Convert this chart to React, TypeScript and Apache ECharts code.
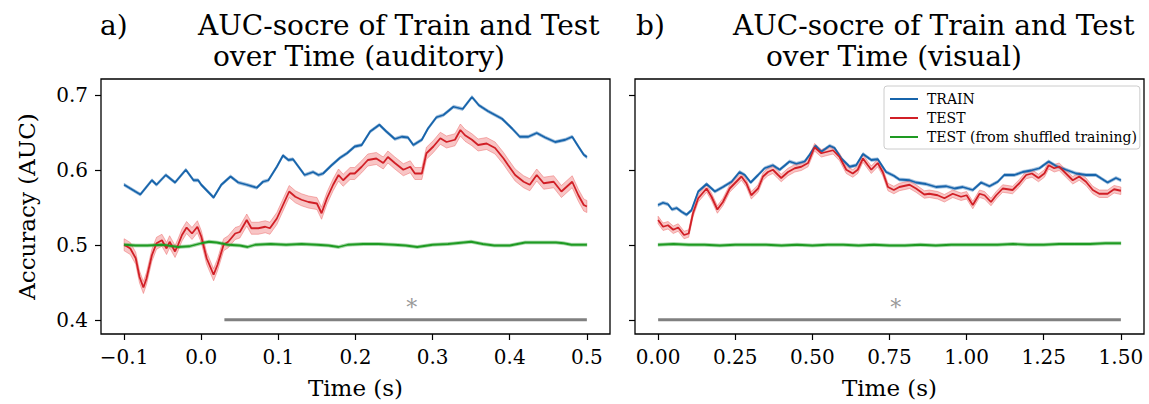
import React, { useEffect, useRef } from "react";
import * as echarts from "echarts";

type P = [number, number];

// ---------- data ----------
const audTrain: P[] = [
  [-0.1, 0.58], [-0.079, 0.567], [-0.064, 0.586], [-0.058, 0.58], [-0.046, 0.593], [-0.034, 0.583],
  [-0.02, 0.6], [-0.01, 0.586], [-0.004, 0.586], [0.0, 0.58], [0.016, 0.563], [0.026, 0.58],
  [0.038, 0.591], [0.048, 0.583], [0.059, 0.58], [0.072, 0.576], [0.08, 0.584], [0.087, 0.586],
  [0.098, 0.604], [0.106, 0.619], [0.113, 0.613], [0.119, 0.614], [0.134, 0.593], [0.145, 0.597],
  [0.152, 0.593], [0.158, 0.595], [0.169, 0.606], [0.18, 0.616], [0.189, 0.622], [0.199, 0.631],
  [0.208, 0.633], [0.219, 0.651], [0.231, 0.66], [0.24, 0.651], [0.251, 0.641], [0.26, 0.644],
  [0.268, 0.643], [0.275, 0.633], [0.286, 0.64], [0.294, 0.655], [0.305, 0.67], [0.314, 0.673],
  [0.327, 0.684], [0.339, 0.681], [0.351, 0.697], [0.36, 0.686], [0.372, 0.678], [0.39, 0.668],
  [0.403, 0.655], [0.413, 0.644], [0.424, 0.644], [0.435, 0.649], [0.446, 0.643], [0.459, 0.637],
  [0.472, 0.64], [0.481, 0.644], [0.489, 0.631], [0.496, 0.62], [0.5, 0.617],
];
const audTest: P[] = [
  [-0.1, 0.5], [-0.092, 0.495], [-0.085, 0.482], [-0.08, 0.457], [-0.075, 0.443], [-0.071, 0.455],
  [-0.064, 0.486], [-0.058, 0.502], [-0.051, 0.506], [-0.045, 0.495], [-0.041, 0.504], [-0.034, 0.491],
  [-0.03, 0.5], [-0.025, 0.513], [-0.019, 0.523], [-0.012, 0.515], [-0.005, 0.524], [0.0, 0.511],
  [0.007, 0.482], [0.016, 0.46], [0.021, 0.473], [0.029, 0.5], [0.035, 0.504], [0.044, 0.515],
  [0.05, 0.517], [0.059, 0.533], [0.065, 0.522], [0.074, 0.522], [0.083, 0.524], [0.089, 0.522],
  [0.098, 0.535], [0.106, 0.553], [0.114, 0.571], [0.122, 0.564], [0.13, 0.56], [0.139, 0.557],
  [0.15, 0.555], [0.156, 0.542], [0.163, 0.562], [0.171, 0.58], [0.178, 0.593], [0.184, 0.586],
  [0.193, 0.595], [0.199, 0.595], [0.208, 0.604], [0.216, 0.613], [0.227, 0.615], [0.236, 0.609],
  [0.242, 0.617], [0.251, 0.609], [0.262, 0.6], [0.271, 0.604], [0.277, 0.595], [0.286, 0.595],
  [0.292, 0.622], [0.301, 0.631], [0.31, 0.642], [0.318, 0.637], [0.329, 0.64], [0.336, 0.653],
  [0.342, 0.646], [0.351, 0.64], [0.359, 0.633], [0.37, 0.635], [0.381, 0.629], [0.392, 0.615],
  [0.398, 0.606], [0.407, 0.593], [0.418, 0.584], [0.426, 0.58], [0.435, 0.593], [0.444, 0.582],
  [0.457, 0.584], [0.467, 0.571], [0.481, 0.584], [0.489, 0.566], [0.496, 0.553], [0.5, 0.551],
];
const audShuf: P[] = [
  [-0.1, 0.5], [-0.085, 0.499], [-0.07, 0.499], [-0.05, 0.5], [-0.03, 0.497], [-0.015, 0.498],
  [0.0, 0.502], [0.01, 0.504], [0.02, 0.503], [0.035, 0.5], [0.05, 0.499], [0.06, 0.497],
  [0.07, 0.5], [0.09, 0.501], [0.11, 0.5], [0.13, 0.501], [0.15, 0.5], [0.165, 0.499],
  [0.178, 0.497], [0.19, 0.5], [0.21, 0.501], [0.23, 0.501], [0.25, 0.5], [0.265, 0.499],
  [0.28, 0.497], [0.3, 0.5], [0.32, 0.501], [0.34, 0.503], [0.35, 0.504], [0.365, 0.501],
  [0.38, 0.499], [0.4, 0.499], [0.42, 0.503], [0.44, 0.503], [0.46, 0.503], [0.47, 0.502],
  [0.48, 0.5], [0.49, 0.5], [0.5, 0.5],
];
const visTrain: P[] = [
  [0.0, 0.553], [0.016, 0.556], [0.032, 0.554], [0.045, 0.547], [0.06, 0.549], [0.076, 0.544],
  [0.092, 0.54], [0.108, 0.546], [0.13, 0.571], [0.157, 0.581], [0.184, 0.571], [0.21, 0.577],
  [0.238, 0.584], [0.264, 0.597], [0.281, 0.593], [0.3, 0.583], [0.324, 0.593], [0.345, 0.602],
  [0.372, 0.606], [0.394, 0.6], [0.426, 0.611], [0.448, 0.608], [0.475, 0.611], [0.491, 0.62],
  [0.51, 0.632], [0.529, 0.624], [0.556, 0.632], [0.572, 0.629], [0.594, 0.615], [0.621, 0.604],
  [0.642, 0.606], [0.664, 0.621], [0.691, 0.613], [0.712, 0.614], [0.739, 0.597], [0.764, 0.592],
  [0.782, 0.587], [0.815, 0.586], [0.836, 0.583], [0.868, 0.581], [0.901, 0.577], [0.934, 0.578],
  [0.961, 0.575], [0.987, 0.577], [1.02, 0.573], [1.047, 0.583], [1.074, 0.578], [1.101, 0.584],
  [1.122, 0.593], [1.155, 0.593], [1.182, 0.597], [1.209, 0.599], [1.236, 0.602], [1.266, 0.611],
  [1.29, 0.605], [1.322, 0.6], [1.355, 0.595], [1.387, 0.593], [1.419, 0.593], [1.457, 0.583],
  [1.484, 0.589], [1.5, 0.586],
];
const visTest: P[] = [
  [0.0, 0.533], [0.016, 0.524], [0.032, 0.526], [0.049, 0.52], [0.065, 0.523], [0.084, 0.513],
  [0.099, 0.515], [0.113, 0.542], [0.13, 0.562], [0.157, 0.575], [0.173, 0.564], [0.192, 0.547],
  [0.21, 0.557], [0.232, 0.575], [0.27, 0.591], [0.286, 0.582], [0.302, 0.566], [0.324, 0.575],
  [0.34, 0.591], [0.356, 0.597], [0.372, 0.6], [0.389, 0.593], [0.399, 0.589], [0.421, 0.597],
  [0.443, 0.602], [0.464, 0.604], [0.486, 0.609], [0.507, 0.63], [0.529, 0.622], [0.548, 0.624],
  [0.567, 0.626], [0.588, 0.617], [0.61, 0.6], [0.631, 0.595], [0.647, 0.6], [0.664, 0.615],
  [0.68, 0.606], [0.691, 0.6], [0.712, 0.609], [0.728, 0.597], [0.745, 0.577], [0.764, 0.573],
  [0.782, 0.577], [0.815, 0.58], [0.836, 0.575], [0.863, 0.567], [0.879, 0.568], [0.906, 0.566],
  [0.928, 0.562], [0.955, 0.568], [0.982, 0.564], [1.0, 0.566], [1.02, 0.553], [1.042, 0.568],
  [1.058, 0.566], [1.079, 0.557], [1.096, 0.566], [1.117, 0.575], [1.149, 0.573], [1.171, 0.582],
  [1.193, 0.593], [1.212, 0.595], [1.233, 0.589], [1.252, 0.595], [1.266, 0.606], [1.284, 0.602],
  [1.3, 0.604], [1.322, 0.595], [1.344, 0.586], [1.365, 0.591], [1.387, 0.584], [1.409, 0.573],
  [1.43, 0.568], [1.457, 0.568], [1.478, 0.574], [1.5, 0.572],
];
const visShuf: P[] = [
  [0, 0.5], [0.05, 0.501], [0.1, 0.5], [0.15, 0.5], [0.2, 0.499], [0.25, 0.5], [0.3, 0.5],
  [0.35, 0.5], [0.4, 0.499], [0.45, 0.5], [0.5, 0.499], [0.55, 0.5], [0.6, 0.5], [0.65, 0.499],
  [0.7, 0.5], [0.75, 0.499], [0.8, 0.499], [0.85, 0.5], [0.9, 0.499], [0.95, 0.5], [1.0, 0.5],
  [1.05, 0.5], [1.1, 0.5], [1.15, 0.501], [1.2, 0.5], [1.25, 0.5], [1.3, 0.501], [1.35, 0.501],
  [1.4, 0.501], [1.45, 0.502], [1.5, 0.502],
];

// band half-widths (SEM) read from the shaded areas
const audTrainSem = 0.002;
const audTestSem = 0.008;
const audShufSem = 0.002;
const visTrainSem = 0.002;
const visTestSem = 0.005;
const visShufSem = 0.002;

const audSig: P[] = [[0.03, 0.4], [0.5, 0.4]];
const visSig: P[] = [[0.0, 0.4], [1.5, 0.4]];
const audStar: P = [0.273, 0.417];
const visStar: P = [0.77, 0.417];

const audXTicks = [-0.1, 0.0, 0.1, 0.2, 0.3, 0.4, 0.5];
const visXTicks = [0.0, 0.25, 0.5, 0.75, 1.0, 1.25, 1.5];
const yTicks = [0.4, 0.5, 0.6, 0.7];
const legendNames = ["TRAIN", "TEST", "TEST (from shuffled training)"];

const FONT = '"DejaVu Serif", serif';
const BLUE = "#1764ab";
const RED = "#d11f26";
const GREEN = "#1e9a22";
const GRAY = "#808080";

function band(data: P[], sem: number, idx: number, fill: string, edge: string) {
  return {
    type: "custom",
    xAxisIndex: idx,
    yAxisIndex: idx,
    silent: true,
    z: 1,
    data: [data[0]],
    renderItem: (_params: any, api: any) => {
      const up = data.map(([t, v]) => api.coord([t, v + sem]));
      const lo = data.map(([t, v]) => api.coord([t, v - sem])).reverse();
      return {
        type: "polygon",
        shape: { points: up.concat(lo) },
        style: { fill, stroke: edge, lineWidth: 0.8 },
      };
    },
  };
}

function line(name: string, data: P[], idx: number, color: string) {
  return {
    type: "line",
    name,
    xAxisIndex: idx,
    yAxisIndex: idx,
    data,
    showSymbol: false,
    symbol: "none",
    z: 3,
    color,
    lineStyle: { color, width: 1.8 },
  };
}

function sig(data: P[], idx: number) {
  return {
    type: "line",
    name: "sig" + idx,
    xAxisIndex: idx,
    yAxisIndex: idx,
    data,
    showSymbol: false,
    symbol: "none",
    z: 2,
    lineStyle: { color: GRAY, width: 3 },
  };
}

function star(p: P, idx: number) {
  return {
    type: "scatter",
    name: "star" + idx,
    xAxisIndex: idx,
    yAxisIndex: idx,
    data: [p],
    symbolSize: 1,
    itemStyle: { color: "rgba(0,0,0,0)" },
    silent: true,
    label: {
      show: true,
      formatter: "*",
      position: "inside",
      fontFamily: FONT,
      fontSize: 22,
      color: GRAY,
    },
  };
}

const tickStyle = { show: true, inside: false, length: 6, lineStyle: { color: "#000", width: 1.2 } };
const labelBase = { fontFamily: FONT, fontSize: 20, color: "#000" };
const nameStyle = { fontFamily: FONT, fontSize: 23, color: "#000" };

function xAxis(idx: number, min: number, max: number, ticks: number[], digits: number) {
  return {
    type: "value",
    gridIndex: idx,
    min,
    max,
    axisLine: { show: false, onZero: false },
    splitLine: { show: false },
    axisTick: { ...tickStyle, customValues: ticks },
    axisLabel: {
      ...labelBase,
      margin: 13,
      customValues: ticks,
      formatter: (v: number) => v.toFixed(digits).replace("-", "\u2212"),
    },
    name: "Time (s)",
    nameLocation: "middle",
    nameGap: 42,
    nameTextStyle: nameStyle,
  };
}

function yAxis(idx: number, labels: boolean) {
  return {
    type: "value",
    gridIndex: idx,
    min: 0.381,
    max: 0.721,
    axisLine: { show: false, onZero: false },
    splitLine: { show: false },
    axisTick: { ...tickStyle, customValues: yTicks },
    axisLabel: {
      ...labelBase,
      show: labels,
      margin: 13,
      customValues: yTicks,
      formatter: (v: number) => v.toFixed(1),
    },
    name: labels ? "Accuracy (AUC)" : "",
    nameLocation: "middle",
    nameGap: 63,
    nameRotate: 90,
    nameTextStyle: nameStyle,
  };
}

function title(text: string, x: number, y: number) {
  return {
    type: "text",
    x,
    y,
    silent: true,
    style: { text, font: `28px ${FONT}`, fill: "#000", verticalAlign: "middle", align: "left" },
  };
}

export default function App() {
  const ref = useRef<HTMLDivElement>(null);
  useEffect(() => {
    if (!ref.current) return;
    const chart = echarts.init(ref.current, null, { renderer: "svg" });
    chart.setOption({
      animation: false,
      backgroundColor: "#fff",
      grid: [
        { left: 101, top: 79, width: 509, height: 255, show: true, borderColor: "#000", borderWidth: 1.3, backgroundColor: "transparent" },
        { left: 635, top: 79, width: 509, height: 255, show: true, borderColor: "#000", borderWidth: 1.3, backgroundColor: "transparent" },
      ],
      xAxis: [xAxis(0, -0.13, 0.53, audXTicks, 1), xAxis(1, -0.075, 1.575, visXTicks, 2)],
      yAxis: [yAxis(0, true), yAxis(1, false)],
      legend: {
        data: legendNames,
        orient: "vertical",
        left: 884,
        top: 86,
        itemWidth: 28,
        itemHeight: 2,
        itemGap: 5,
        icon: "rect",
        padding: [6, 3, 5, 6],
        borderColor: "#cccccc",
        borderWidth: 1,
        borderRadius: 3,
        backgroundColor: "rgba(255,255,255,0.85)",
        textStyle: { fontFamily: FONT, fontSize: 14, color: "#000", padding: [0, 0, 0, 4] },
        selectedMode: false,
      },
      graphic: [
        title("a)", 100, 25),
        title("AUC-socre of Train and Test", 198, 25),
        title("over Time (auditory)", 213, 56),
        title("b)", 636, 25),
        title("AUC-socre of Train and Test", 733, 25),
        title("over Time (visual)", 766, 56),
      ],
      series: [
        band(audTrain, audTrainSem, 0, "rgba(23,100,171,0.3)", "rgba(23,100,171,0.35)"),
        band(audTest, audTestSem, 0, "rgba(235,90,90,0.35)", "rgba(235,90,90,0.55)"),
        band(audShuf, audShufSem, 0, "rgba(30,154,34,0.3)", "rgba(30,154,34,0.35)"),
        line("TRAIN", audTrain, 0, BLUE),
        line("TEST", audTest, 0, RED),
        line("TEST (from shuffled training)", audShuf, 0, GREEN),
        sig(audSig, 0),
        star(audStar, 0),
        band(visTrain, visTrainSem, 1, "rgba(23,100,171,0.3)", "rgba(23,100,171,0.35)"),
        band(visTest, visTestSem, 1, "rgba(235,90,90,0.35)", "rgba(235,90,90,0.55)"),
        band(visShuf, visShufSem, 1, "rgba(30,154,34,0.3)", "rgba(30,154,34,0.35)"),
        line("TRAIN", visTrain, 1, BLUE),
        line("TEST", visTest, 1, RED),
        line("TEST (from shuffled training)", visShuf, 1, GREEN),
        sig(visSig, 1),
        star(visStar, 1),
      ],
    });
    return () => chart.dispose();
  }, []);
  return (
    <div
      ref={ref}
      style={{ position: "absolute", left: 0, top: 0, width: 1149, height: 404, background: "#fff" }}
    />
  );
}
